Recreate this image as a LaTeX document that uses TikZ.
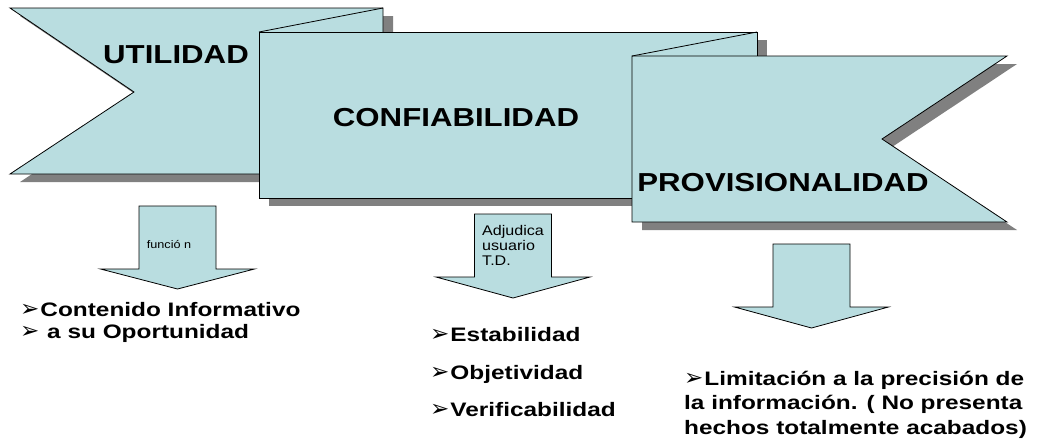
\documentclass[tikz,border=0pt]{standalone}
\usepackage{fontspec}
\setmainfont{Liberation Sans}
\newfontfamily\bannerfont[FakeStretch=1.2]{Liberation Sans}
\newfontfamily\bodyfont[FakeStretch=1.25]{Liberation Sans}
\newfontfamily\notefont[FakeStretch=1.15]{Liberation Sans}
\newfontfamily\dingfont{DejaVu Sans}
\newcommand{\bul}{{\dingfont\fontsize{23}{23}\selectfont\symbol{"27A2}}\kern1pt}
\usetikzlibrary{math}
\definecolor{ribboncol}{RGB}{185,221,224}
\definecolor{dropcol}{RGB}{128,128,128}

\begin{document}
\begin{tikzpicture}[x=1pt,y=-1pt,
    ribbonfill/.style={fill=ribboncol,draw=black,line width=0.8pt},
    dropfill/.style={fill=dropcol,shift={(10,8)}},
    bannertext/.style={font=\bannerfont\bfseries\fontsize{26}{30}\selectfont,inner sep=0},
    listtext/.style={font=\bodyfont\bfseries\fontsize{19.5}{#1}\selectfont,inner sep=0,anchor=west,align=left},
    listtext/.default=24.5,
    arrowtext/.style={font=\notefont\fontsize{14}{15}\selectfont,inner sep=0,align=left}]
  \useasboundingbox (0,0) rectangle (1041,442);

  % ribbons, back to front
  \fill[dropfill] (10,8) -- (383,8) -- (383,174) -- (10,174) -- (134,92) -- cycle;
  \draw[ribbonfill] (10,8) -- (383,8) -- (383,174) -- (10,174) -- (134,92) -- cycle;
  \fill[dropfill] (259,32) rectangle (757,198);
  \draw[ribbonfill] (259,32) rectangle (757,198);
  \draw[line width=0.8pt] (259,32) -- (383,8);
  \fill[dropfill] (632,56) -- (1007,56) -- (882,139) -- (1007,222) -- (632,222) -- cycle;
  \draw[ribbonfill] (632,56) -- (1007,56) -- (882,139) -- (1007,222) -- (632,222) -- cycle;
  \draw[line width=0.8pt] (632,56) -- (757,32);

  \node[bannertext] (utilidad) at (176,55) {UTILIDAD};
  \node[bannertext] (confiab) at (456,118) {CONFIABILIDAD};
  \node[bannertext] (provis) at (783,183) {PROVISIONALIDAD};

  % block arrows
  \foreach \cx/\yt/\yb/\yp in {177.5/206/269/289, 513/214/277/298, 811.5/244/307/328} {
    \tikzmath{
      real \l, \r, \hl, \hr;
      \l = \cx - 38.5; \r = \cx + 38.5;
      \hl = \cx - 77; \hr = \cx + 77;
    }
    \draw[ribbonfill] (\l,\yt) -- (\r,\yt) -- (\r,\yb) -- (\hr,\yb) -- (\cx,\yp)
      -- (\hl,\yb) -- (\l,\yb) -- cycle;
  }
  \node[arrowtext,font=\notefont\fontsize{11}{13}\selectfont] (funcion) at (169,244) {funció n};
  \node[arrowtext,anchor=west] (adjudica) at (482,245) {Adjudica\\usuario\\T.D.};

  % lists
  \node[listtext=22] (contenido) at (20,322.5) {\bul Contenido Informativo\\\bul{} a su Oportunidad};
  \foreach \txt/\yb [count=\i] in {Estabilidad/341, Objetividad/379, Verificabilidad/416}
    \node[listtext,anchor=base west] (prop\i) at (430,\yb) {\bul\txt};
  \node[listtext] (limitacion) at (684,404.5) {\bul Limitación a la precisión de\\la información. ( No presenta\\hechos totalmente acabados)};
\end{tikzpicture}
\end{document}
